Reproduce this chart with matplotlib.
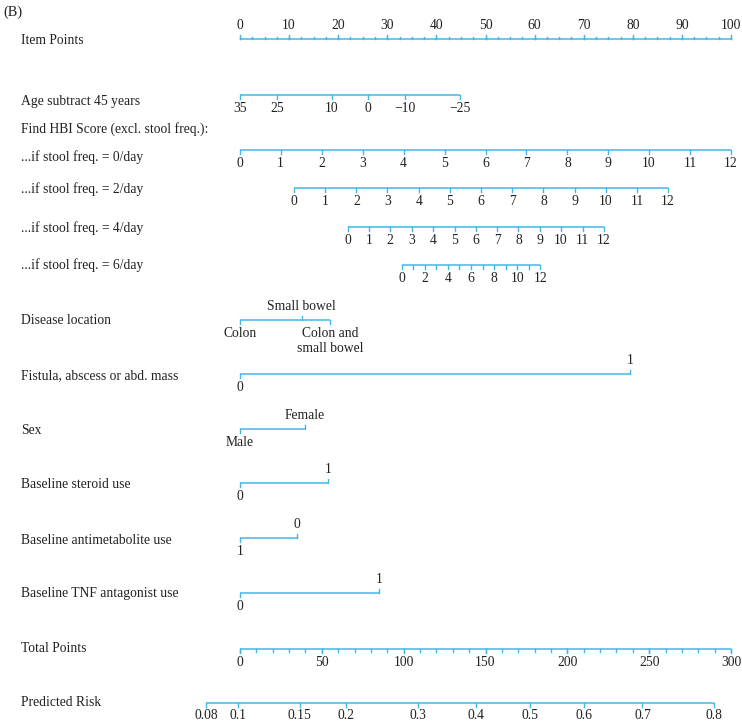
import numpy as np
import matplotlib.pyplot as plt

plt.rcParams['font.family'] = ['Liberation Serif', 'DejaVu Serif']

# ---- data (values are in "item points") ----
item_ticks = [0, 10, 20, 30, 40, 50, 60, 70, 80, 90, 100]
item_minor = list(np.arange(0, 100.1, 2.5))

age_labels = ['35', '25', '10', '0', '\u221210', '\u221225']
age_points = [0, 7.5, 18.7, 26.1, 33.6, 44.8]

hbi_scores = [str(i) for i in range(13)]
hbi_pts_0 = [0, 8.3, 16.7, 25.0, 33.3, 41.7, 50.0, 58.3, 66.7, 75.0, 83.3, 91.7, 100]
hbi_pts_2 = [11.0, 17.3, 23.7, 30.0, 36.4, 42.7, 49.1, 55.4, 61.8, 68.2, 74.5, 80.9, 87.2]
hbi_pts_4 = [21.9, 26.3, 30.6, 35.0, 39.3, 43.7, 48.0, 52.4, 56.7, 61.1, 65.4, 69.8, 74.1]
hbi_pts_6 = [32.9, 35.3, 37.6, 40.0, 42.3, 44.7, 47.0, 49.4, 51.8, 54.1, 56.5, 58.8, 61.2]

loc_labels = ['Colon', 'Small bowel', 'Colon and\nsmall bowel']
loc_points = [0, 12.6, 18.3]
fistula_labels = ['0', '1']
fistula_points = [0, 79.4]
sex_labels = ['Male', 'Female']
sex_points = [0, 13.2]
steroid_labels = ['0', '1']
steroid_points = [0, 17.9]
antimet_labels = ['1', '0']
antimet_points = [0, 11.6]
tnf_labels = ['0', '1']
tnf_points = [0, 28.3]

total_ticks = [0, 50, 100, 150, 200, 250, 300]
total_minor = list(range(0, 301, 10))

risk_values = [0.08, 0.1, 0.15, 0.2, 0.3, 0.4, 0.5, 0.6, 0.7, 0.8]
risk_labels = ['0.08', '0.1', '0.15', '0.2', '0.3', '0.4', '0.5', '0.6', '0.7', '0.8']
risk_mid = 177.2      # total points where risk = 0.5
risk_slope = 0.01233  # logit per total point

# ---- layout ----
X0 = 240.0            # pixel of 0 points
PX = 4.91             # pixels per point
W, H = 742, 724
blue = '#45b5e6'
txt = '#222222'
fs = 9.8

fig = plt.figure(figsize=(W / 100, H / 100), dpi=100)
ax = fig.add_axes([0, 0, 1, 1])
ax.set_xlim(-X0 / PX, (W - X0) / PX)
ax.set_ylim(H, 0)
ax.axis('off')

label_x = (21 - X0) / PX


def scale(y, pts, labels, sides, minor=None, show=None, tl=4.0, ml=2.5, below=7):
    ax.plot([min(pts), max(pts)], [y, y], color=blue, lw=1.1, solid_capstyle='butt')
    if minor is not None:
        for m in minor:
            d = -1 if sides[0] > 0 else 1
            ax.plot([m, m], [y, y + d * ml], color=blue, lw=1.0)
    for i, (p, lab) in enumerate(zip(pts, labels)):
        s = sides[i]
        ax.plot([p, p], [y, y - s * tl], color=blue, lw=1.0)
        if show is not None and not show[i]:
            continue
        if s > 0:
            ax.text(p, y - 7, lab, ha='center', va='bottom', fontsize=fs, color=txt,
                    linespacing=1.2)
        else:
            ax.text(p, y + below, lab, ha='center', va='top', fontsize=fs, color=txt,
                    linespacing=1.2)


def row_label(y, s):
    ax.text(label_x, y, s, ha='left', va='center', fontsize=fs, color=txt)


ax.text((3 - X0) / PX, 12, '(B)', ha='left', va='center', fontsize=fs + 0.5, color=txt)

# Item points
row_label(40, 'Item Points')
scale(39, item_ticks, [str(t) for t in item_ticks], [1] * len(item_ticks),
      minor=item_minor)

# Age
row_label(102, 'Age subtract 45 years')
scale(95, age_points, age_labels, [-1] * len(age_points))

row_label(129, 'Find HBI Score (excl. stool freq.):')
row_label(157, '...if stool freq. = 0/day')
scale(150, hbi_pts_0, hbi_scores, [-1] * 13)
row_label(189, '...if stool freq. = 2/day')
scale(188, hbi_pts_2, hbi_scores, [-1] * 13)
row_label(228, '...if stool freq. = 4/day')
scale(227, hbi_pts_4, hbi_scores, [-1] * 13)
row_label(265, '...if stool freq. = 6/day')
scale(265, hbi_pts_6, hbi_scores, [-1] * 13, show=[i % 2 == 0 for i in range(13)])

row_label(321, 'Disease location')
scale(320, loc_points, loc_labels, [-1, 1, -1])

row_label(376, 'Fistula, abscess or abd. mass')
scale(374, fistula_points, fistula_labels, [-1, 1])

row_label(430, 'Sex')
scale(429, sex_points, sex_labels, [-1, 1])

row_label(484, 'Baseline steroid use')
scale(483, steroid_points, steroid_labels, [-1, 1])

row_label(540, 'Baseline antimetabolite use')
scale(538, antimet_points, antimet_labels, [-1, 1])

row_label(593, 'Baseline TNF antagonist use')
scale(593, tnf_points, tnf_labels, [-1, 1])

# Total points (300 total points = 100 item points)
row_label(648, 'Total Points')
scale(649, [t / 3 for t in total_ticks], [str(t) for t in total_ticks],
      [-1] * len(total_ticks), minor=[m / 3 for m in total_minor])

# Predicted risk
risk_total = [risk_mid + np.log(p / (1 - p)) / risk_slope for p in risk_values]
row_label(703, 'Predicted Risk')
scale(703, [t / 3 for t in risk_total], risk_labels, [-1] * len(risk_values), below=6)

fig.savefig('out.png', dpi=100)
